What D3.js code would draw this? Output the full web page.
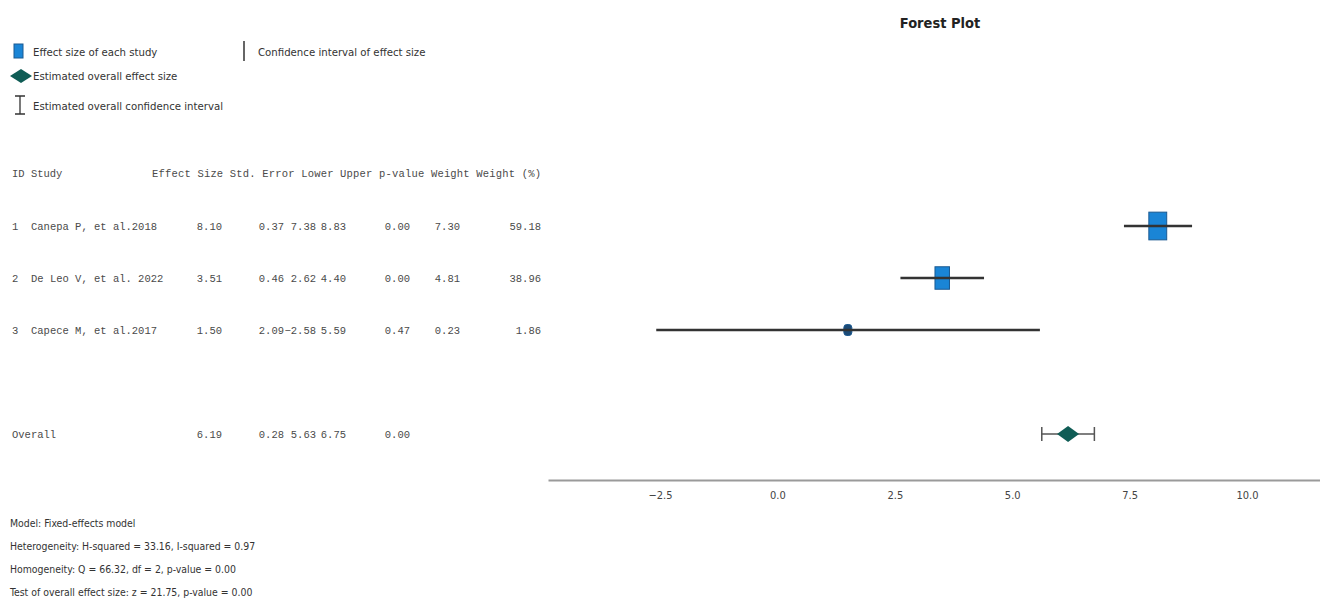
<!DOCTYPE html>
<html>
<head>
<meta charset="utf-8">
<script src="https://cdn.jsdelivr.net/npm/d3@7"></script>
<style>
  body { margin: 0; background: #fff; }
  svg { display: block; }
  .narrow { font-family: "Liberation Sans Narrow", "DejaVu Sans Condensed", "Arial Narrow", sans-serif; }
  .mono { font-family: "Liberation Mono", "DejaVu Sans Mono", monospace; }
</style>
</head>
<body>
<div id="chart"></div>
<script>
// study table
const studyIds = ['1', '2', '3']
const studyNames = ['Canepa P, et al.2018', 'De Leo V, et al. 2022', 'Capece M, et al.2017']
const effectSizes = [8.10, 3.51, 1.50]
const stdErrors = [0.37, 0.46, 2.09]
const lowerCI = [7.38, 2.62, -2.58]
const upperCI = [8.83, 4.40, 5.59]
const pValues = [0.00, 0.00, 0.47]
const weights = [7.30, 4.81, 0.23]
const weightPct = [59.18, 38.96, 1.86]

// overall (fixed effects): effect, se, lower, upper, p
const overallValues = [6.19, 0.28, 5.63, 6.75, 0.00]

const xTicks = [-2.5, 0, 2.5, 5, 7.5, 10]
const headerText = 'Effect Size Std. Error Lower Upper p-value Weight Weight (%)'
const legendLabels = ['Effect size of each study', 'Confidence interval of effect size',
  'Estimated overall effect size', 'Estimated overall confidence interval']
const statsLines = [
  'Model: Fixed-effects model',
  'Heterogeneity: H-squared = 33.16, I-squared = 0.97',
  'Homogeneity: Q = 66.32, df = 2, p-value = 0.00',
  'Test of overall effect size: z = 21.75, p-value = 0.00'
]

const W = 1320, H = 601

const svg = d3.select('#chart').append('svg')
  .attr('width', W)
  .attr('height', H)

// x scale: -2.5 sits at 660px, 10 at 1247px; axis runs 548 -> 1320
const base = d3.scaleLinear().domain([-2.5, 10]).range([660, 1247])
const x = d3.scaleLinear()
  .domain([base.invert(548), base.invert(1320)])
  .range([548, 1320])

// row positions (header = -1, studies 0..2, overall = 4)
const y = d3.scaleLinear().domain([0, 4]).range([226, 434])

const boxW = d3.scaleSqrt().domain([0, 60]).range([0, 18])

const fmt = d3.format('.2f')

// title
svg.append('text')
  .attr('class', 'narrow')
  .attr('x', 940).attr('y', 28)
  .attr('text-anchor', 'middle')
  .attr('font-size', 14.5)
  .attr('font-weight', 'bold')
  .attr('fill', '#222')
  .text('Forest Plot')

// legend
const lg = svg.append('g').attr('class', 'narrow').attr('font-size', 11.3).attr('fill', '#333')

lg.append('rect')
  .attr('x', 14).attr('y', 44).attr('width', 9).attr('height', 14)
  .attr('fill', '#1a85d6').attr('stroke', '#1b5a92')
lg.append('text').attr('x', 33).attr('y', 56).text(legendLabels[0])

lg.append('line')
  .attr('x1', 244).attr('x2', 244).attr('y1', 41).attr('y2', 61)
  .attr('stroke', '#333').attr('stroke-width', 1.5)
lg.append('text').attr('x', 258).attr('y', 56).text(legendLabels[1])

lg.append('path')
  .attr('d', 'M10,76 L21,69 L32,76 L21,83 Z')
  .attr('fill', '#0f5c55')
lg.append('text').attr('x', 33).attr('y', 80).text(legendLabels[2])

lg.append('path')
  .attr('d', 'M15,96 H25 M20,96 V114 M15,114 H25')
  .attr('stroke', '#333').attr('stroke-width', 1.3).attr('fill', 'none')
lg.append('text').attr('x', 33).attr('y', 110).text(legendLabels[3])

// table
const tb = svg.append('g').attr('class', 'mono').attr('font-size', 10.5).attr('fill', '#4a4a4a')

tb.append('text').attr('x', 12).attr('y', y(-1) + 3).text('ID Study')
tb.append('text').attr('x', 152).attr('y', y(-1) + 3)
  .attr('textLength', 389).attr('lengthAdjust', 'spacing')
  .text(headerText)

// right edges of the numeric columns
const colEnds = [222, 284, 316, 346, 410, 460, 541]

studyIds.forEach((id, i) => {
  const row = tb.append('g').attr('transform', 'translate(0,' + (y(i) + 4) + ')')
  row.append('text').attr('x', 12).text(id)
  row.append('text').attr('x', 31).text(studyNames[i])
  const vals = [effectSizes[i], stdErrors[i], lowerCI[i], upperCI[i], pValues[i], weights[i], weightPct[i]]
  vals.forEach((v, j) => {
    row.append('text').attr('x', colEnds[j]).attr('text-anchor', 'end').text(fmt(v))
  })
})

const orow = tb.append('g').attr('transform', 'translate(0,' + (y(4) + 4) + ')')
orow.append('text').attr('x', 12).text('Overall')
overallValues.forEach((v, j) => {
  orow.append('text').attr('x', colEnds[j]).attr('text-anchor', 'end').text(fmt(v))
})

// stats
const st = svg.append('g').attr('class', 'narrow').attr('font-size', 10.4).attr('fill', '#333')
statsLines.forEach((t, i) => {
  st.append('text').attr('x', 10).attr('y', 527 + i * 23).text(t)
})

// axis
const axis = svg.append('g')
  .attr('transform', 'translate(0,480)')
  .call(d3.axisBottom(x).tickValues(xTicks).tickSize(0).tickPadding(11).tickFormat(d3.format('.1f')))
axis.select('.domain').attr('stroke', '#9a9a9a').attr('stroke-width', 2)
axis.selectAll('text')
  .attr('class', 'narrow')
  .attr('font-size', 11)
  .attr('fill', '#444')

// study markers
const plot = svg.append('g')

studyIds.forEach((id, i) => {
  const w = Math.max(boxW(weightPct[i]), 8)
  const h = Math.max(boxW(weightPct[i]) * 1.55, 11)
  plot.append('rect')
    .attr('x', x(effectSizes[i]) - w / 2)
    .attr('y', y(i) - h / 2)
    .attr('width', w)
    .attr('height', h)
    .attr('rx', i === 2 ? 3 : 0)
    .attr('fill', i === 2 ? '#1d4a75' : '#1a85d6')
    .attr('stroke', '#1b5a92')
    .attr('stroke-width', 1)
  plot.append('line')
    .attr('x1', x(lowerCI[i])).attr('x2', x(upperCI[i]))
    .attr('y1', y(i)).attr('y2', y(i))
    .attr('stroke', '#333')
    .attr('stroke-width', 2.5)
})

// overall interval + diamond
const oy = y(4)
plot.append('path')
  .attr('d', 'M' + x(overallValues[2]) + ',' + oy + 'H' + x(overallValues[3]) +
    'M' + x(overallValues[2]) + ',' + (oy - 7) + 'V' + (oy + 7) +
    'M' + x(overallValues[3]) + ',' + (oy - 7) + 'V' + (oy + 7))
  .attr('stroke', '#555').attr('stroke-width', 1.5).attr('fill', 'none')

const cx = x(overallValues[0])
plot.append('path')
  .attr('d', 'M' + (cx - 11) + ',' + oy + 'L' + cx + ',' + (oy - 8) + 'L' + (cx + 11) + ',' + oy + 'L' + cx + ',' + (oy + 8) + 'Z')
  .attr('fill', '#0f5c55')
</script>
</body>
</html>
